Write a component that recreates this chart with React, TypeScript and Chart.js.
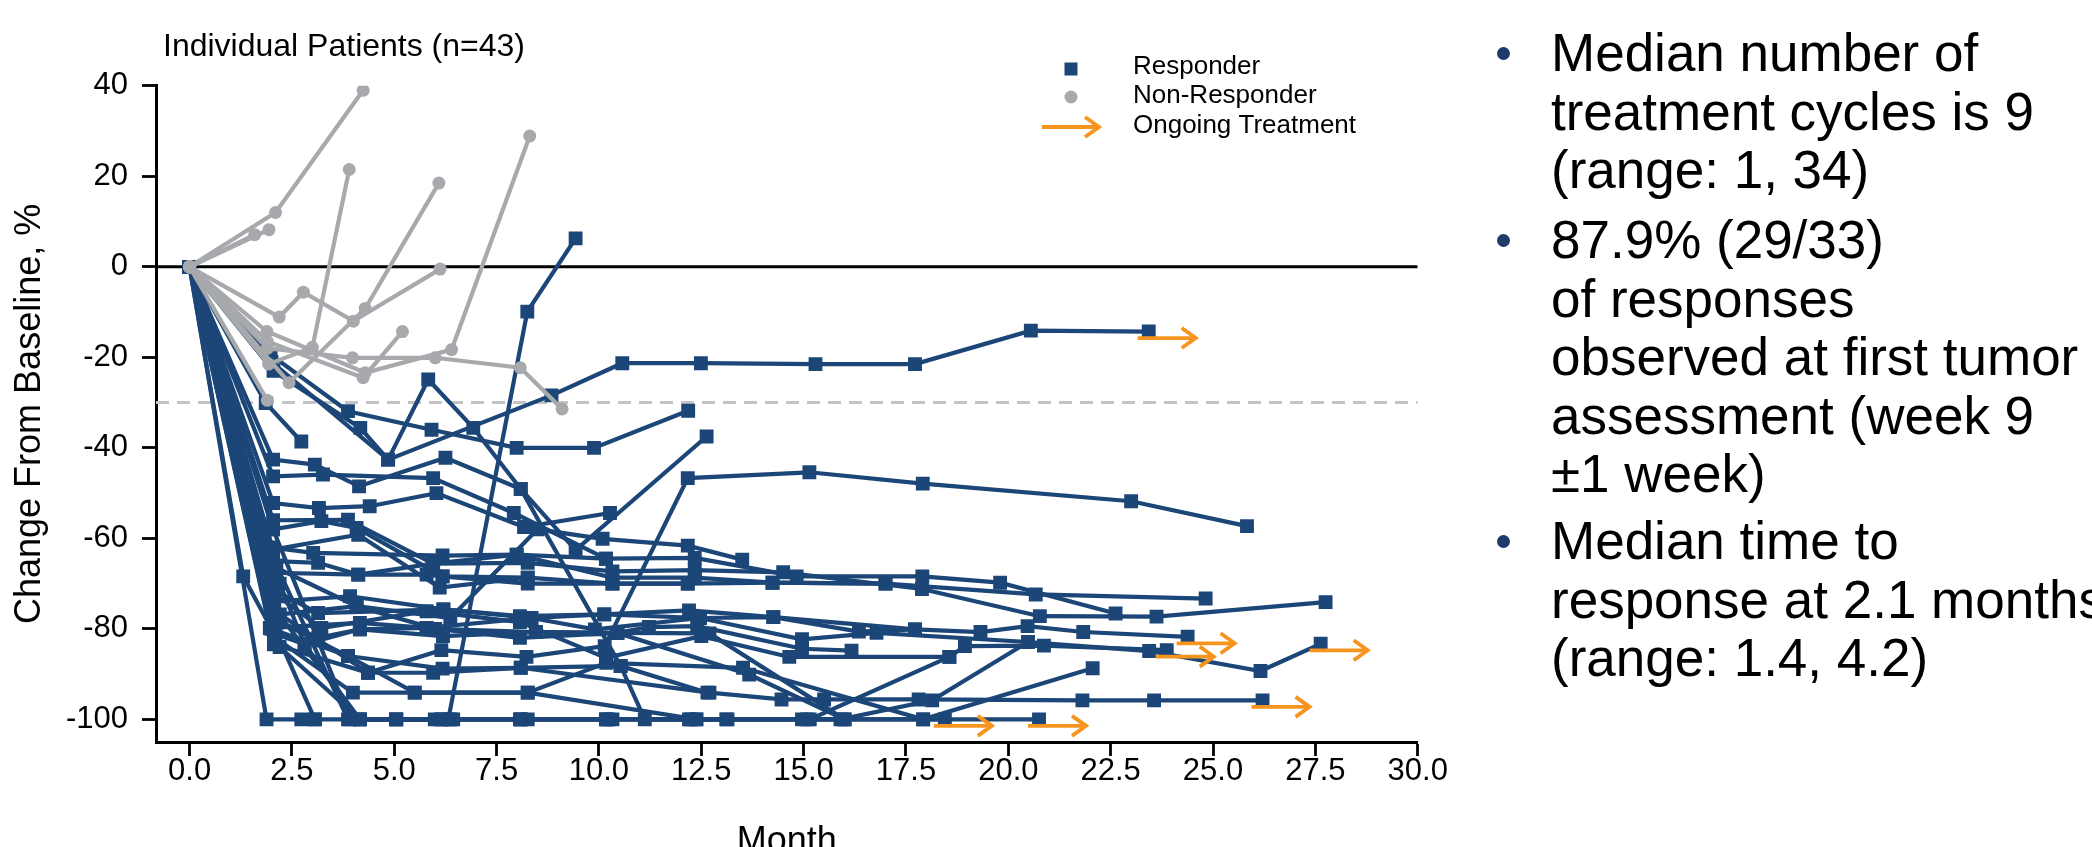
import React, { useEffect, useRef } from "react";
import { Chart, registerables } from "chart.js";

Chart.register(...registerables);

// ---- data -----------------------------------------------------------------
// Each patient: [month, % change in tumour size from baseline]
const responders: number[][][] = [
  [[0, 0], [2.0, -21], [4.85, -42.6], [8.84, -28.4], [10.57, -21.3], [12.49, -21.3], [15.29, -21.5], [17.72, -21.5], [20.55, -14.1], [23.43, -14.3]],
  [[0, 0], [1.98, -19.4], [3.87, -31.9], [5.91, -36], [7.99, -40], [9.88, -40], [12.18, -31.8]],
  [[0, 0], [2.05, -23], [4.17, -35.6], [4.85, -42.6], [5.83, -24.9], [6.93, -35.6], [8.09, -49.1], [9.43, -62.6], [12.63, -37.5]],
  [[0, 0], [1.86, -30.1], [2.73, -38.6]],
  [[0, 0], [2.04, -58], [3.92, -100], [5.05, -100], [6.32, -100], [8.25, -9.9], [9.43, 6.3]],
  [[0, 0], [2.06, -83.4], [4.36, -89.7], [6.15, -84.7], [8.23, -86.2], [10.14, -83.8], [12.17, -46.7], [15.14, -45.4], [17.91, -47.9], [23.0, -51.8], [25.83, -57.3]],
  [[0, 0], [2.04, -42.6], [3.06, -43.7], [4.14, -48.5], [6.25, -42.2], [8.09, -49.1], [10.53, -88.2], [11.12, -100], [12.2, -100], [13.14, -100]],
  [[0, 0], [2.04, -52.2], [3.16, -53.3], [4.4, -52.9], [6.03, -50], [8.17, -57.5], [10.27, -54.4]],
  [[0, 0], [2.2, -76.8], [4.08, -75], [6.37, -77.6], [8.5, -58], [10.09, -60.1], [12.17, -61.6], [13.5, -64.7]],
  [[0, 0], [2.04, -46.3], [3.26, -45.9], [5.95, -46.7], [7.92, -54.4], [10.17, -64.5], [12.34, -64.3], [14.83, -68.4], [17.9, -68.4], [19.8, -69.8], [22.62, -76.6]],
  [[0, 0], [2.07, -67.6], [4.12, -68], [5.95, -65.6], [8.26, -65.4], [10.33, -67.3], [12.34, -67], [14.5, -67.5], [17.89, -71.2], [20.77, -77.2], [23.62, -77.3], [27.75, -74.1]],
  [[0, 0], [1.96, -62], [3.02, -63.2], [6.18, -63.8], [7.99, -63.6], [10.33, -68.7], [12.34, -68.7], [14.24, -69.8], [17.0, -70], [20.67, -72.4], [24.82, -73.3]],
  [[0, 0], [2.04, -71.3], [3.14, -76.5], [6.2, -75.7], [8.07, -77.2], [10.13, -76.8], [12.2, -75.9], [14.26, -77.4], [17.72, -80.1], [19.32, -80.7], [20.47, -79.4], [21.83, -80.7], [24.38, -81.75]],
  [[0, 0], [1.96, -79.8], [4.16, -78.7], [5.79, -79.8], [8.35, -77.6], [9.9, -80.1], [12.47, -77.6], [14.96, -82.3], [16.78, -80.9], [20.48, -82.9], [23.44, -84.9], [26.16, -89.3], [27.63, -83.3]],
  [[0, 0], [2.06, -81], [2.81, -83.4], [4.16, -80.1], [6.19, -81.6], [8.46, -80.7], [10.45, -80.9], [11.22, -79.6], [12.4, -79.4], [14.96, -84.4], [16.17, -84.8]],
  [[0, 0], [2.04, -72], [3.22, -79.8], [5.79, -76.1], [8.07, -78.5], [10.17, -86.4], [12.5, -81.6], [14.65, -86.2], [18.56, -86.2], [18.94, -83.8], [20.87, -83.7], [23.87, -84.7]],
  [[0, 0], [1.31, -68.4], [2.0, -80], [3.87, -86], [6.18, -88.8], [8.09, -88.6], [10.53, -88.2], [12.65, -94.1]],
  [[0, 0], [2.1, -82], [3.99, -94.1], [5.5, -94.1], [8.26, -94.1], [10.18, -87.5], [13.52, -88.6], [17.92, -100], [22.06, -88.7]],
  [[0, 0], [2.07, -76], [4.36, -89.7], [5.95, -89.7], [8.09, -88.6], [12.7, -94.1], [14.46, -95.6], [15.5, -95.6], [17.81, -95.6], [21.81, -95.8], [23.56, -95.8], [26.21, -95.8]],
  [[0, 0], [1.88, -100], [2.73, -100], [3.06, -100]],
  [[0, 0], [2.1, -80.5], [3.06, -100], [5.05, -100], [5.99, -100], [8.09, -100], [10.17, -100], [12.38, -100], [15.08, -100], [18.45, -100]],
  [[0, 0], [2.2, -77], [4.16, -100], [6.44, -100], [8.26, -100], [10.33, -100], [13.11, -100], [14.96, -100], [17.92, -100], [20.75, -100]],
  [[0, 0], [2.12, -66], [3.87, -100], [6.15, -100], [8.07, -100], [10.22, -100]],
  [[0, 0], [2.04, -58], [3.22, -56.2], [4.08, -57.7], [6.18, -68.4], [8.26, -70], [10.33, -70], [12.17, -70]],
  [[0, 0], [2.04, -62.5], [4.12, -59.2], [6.11, -70.9], [8.26, -68.7], [10.33, -70], [12.17, -70], [14.24, -69.8], [17.0, -70]],
  [[0, 0], [2.04, -65], [3.14, -65.4], [4.12, -68], [5.79, -68], [6.18, -68.4], [8.26, -68.7]],
  [[0, 0], [2.0, -66], [4.08, -75], [6.0, -80], [8.46, -80.7], [10.45, -80.9], [12.7, -81], [16.0, -100]],
  [[0, 0], [2.2, -84], [4.16, -100], [6.38, -100], [8.09, -100], [10.17, -100], [12.24, -100], [15.15, -100], [18.56, -86.2]],
  [[0, 0], [2.1, -78], [3.87, -86], [5.5, -94.1], [8.26, -94.1], [12.38, -100], [15.9, -100], [18.14, -95.8], [20.48, -82.9]],
  [[0, 0], [2.04, -56], [3.87, -55.9], [5.95, -65.6], [7.99, -63.6], [10.17, -64.5]],
  [[0, 0], [2.06, -74], [3.92, -72.8], [6.2, -75.7], [8.35, -77.6], [10.13, -76.8], [12.47, -77.6], [14.26, -77.4], [16.35, -80.6], [17.72, -80.1]],
  [[0, 0], [2.04, -78], [3.14, -82], [4.16, -80.1], [5.79, -79.8], [8.07, -82], [10.45, -80.9], [13.67, -90.1], [16.0, -100]],
  [[0, 0], [2.2, -70], [2.81, -83.4], [4.16, -100], [5.04, -100], [6.15, -100]],
];

// responders still on treatment at data cut-off (index into responders)
const ongoingPatients = [0, 12, 13, 15, 18, 20, 21];

const nonResponders: number[][][] = [
  [[0, 0], [2.1, 12], [4.24, 39]],
  [[0, 0], [1.59, 7.1]],
  [[0, 0], [1.94, 8.2]],
  [[0, 0], [1.93, -21.5], [3.0, -17.8], [3.9, 21.5]],
  [[0, 0], [2.43, -25.6], [4.29, -9.2], [6.09, 18.5]],
  [[0, 0], [2.19, -11.1], [2.78, -5.6], [4.0, -12], [6.12, -0.5]],
  [[0, 0], [1.89, -14.3], [4.29, -23.4], [6.4, -18.3], [8.31, 28.9]],
  [[0, 0], [1.9, -16.5], [4.24, -24.5], [5.2, -14.3]],
  [[0, 0], [1.9, -18], [3.98, -20.1], [6.0, -20.1], [8.08, -22.3], [9.1, -31.4]],
  [[0, 0], [1.9, -29.5]],
];

const monthTicks = [0, 2.5, 5, 7.5, 10, 12.5, 15, 17.5, 20, 22.5, 25, 27.5, 30];
const changeTicks = [40, 20, 0, -20, -40, -60, -80, -100];
const monthRange = [-0.82, 30];
const changeRange = [-105, 40];
const responseThreshold = -30;

const legendLabels = ["Responder", "Non-Responder", "Ongoing Treatment"];
const chartTitle = "Individual Patients (n=43)";

const bulletGroups: string[][] = [
  ["Median number of", "treatment cycles is 9", "(range: 1, 34)"],
  ["87.9% (29/33)", "of responses", "observed at first tumor", "assessment (week 9", "\u00b11 week)"],
  ["Median time to", "response at 2.1 months", "(range: 1.4, 4.2)"],
];

// ---- styles ---------------------------------------------------------------
const NAVY = "#1b4677";
const GREY = "#a7a9ac";
const ORANGE = "#f7941d";
const FONT = '"Liberation Sans", Arial, Helvetica, sans-serif';

const CANVAS_W = 1480;
const CANVAS_H = 880;

function drawArrow(ctx: CanvasRenderingContext2D, x0: number, x1: number, y: number) {
  ctx.beginPath();
  ctx.moveTo(x0, y);
  ctx.lineTo(x1, y);
  ctx.stroke();
  ctx.beginPath();
  ctx.moveTo(x1 - 14, y - 10);
  ctx.lineTo(x1, y);
  ctx.lineTo(x1 - 14, y + 10);
  ctx.stroke();
}

const ongoingArrows = {
  id: "ongoingArrows",
  afterDatasetsDraw(chart: any) {
    const { ctx, scales } = chart;
    ctx.save();
    ctx.strokeStyle = ORANGE;
    ctx.lineWidth = 3.8;
    ctx.lineJoin = "miter";
    ongoingPatients.forEach((i) => {
      const pts = responders[i];
      const [m, v] = pts[pts.length - 1];
      const px = scales.x.getPixelForValue(m);
      const py = scales.y.getPixelForValue(v);
      drawArrow(ctx, px - 11, px + 47, py + 6.5);
    });
    ctx.restore();
  },
};

const titleAndLegend = {
  id: "titleAndLegend",
  afterDraw(chart: any) {
    const { ctx } = chart;
    ctx.save();
    ctx.fillStyle = "#000";
    ctx.textBaseline = "middle";
    ctx.textAlign = "left";
    ctx.font = `32px ${FONT}`;
    ctx.fillText(chartTitle, 163, 47);

    // legend
    ctx.fillStyle = NAVY;
    ctx.fillRect(1064.5, 62.5, 13, 13);
    ctx.fillStyle = GREY;
    ctx.beginPath();
    ctx.arc(1071, 97, 6.5, 0, Math.PI * 2);
    ctx.fill();
    ctx.strokeStyle = ORANGE;
    ctx.lineWidth = 3.8;
    drawArrow(ctx, 1042, 1099, 127);

    ctx.fillStyle = "#000";
    ctx.font = `26px ${FONT}`;
    ctx.fillText(legendLabels[0], 1133, 67);
    ctx.fillText(legendLabels[1], 1133, 96);
    ctx.fillText(legendLabels[2], 1133, 126);
    ctx.restore();
  },
};

function toXY(pts: number[][]) {
  return pts.map(([x, y]) => ({ x, y }));
}

export default function App() {
  const canvasRef = useRef<HTMLCanvasElement | null>(null);

  useEffect(() => {
    const canvas = canvasRef.current;
    if (!canvas) return;

    const greySets = nonResponders.map((pts) => ({
      data: toXY(pts),
      borderColor: GREY,
      backgroundColor: GREY,
      borderWidth: 4.2,
      pointStyle: "circle",
      pointRadius: 6.5,
      pointBorderWidth: 0,
      pointBackgroundColor: GREY,
      tension: 0,
    }));
    const navySets = responders.map((pts) => ({
      data: toXY(pts),
      borderColor: NAVY,
      backgroundColor: NAVY,
      borderWidth: 4.2,
      pointStyle: "rect",
      pointRadius: 9.8,
      pointBorderWidth: 0,
      pointBackgroundColor: NAVY,
      tension: 0,
    }));
    const baseline = {
      data: [{ x: monthRange[0], y: 0 }, { x: monthRange[1], y: 0 }],
      borderColor: "#000",
      borderWidth: 3,
      pointRadius: 0,
    };
    const threshold = {
      data: [{ x: monthRange[0], y: responseThreshold }, { x: monthRange[1], y: responseThreshold }],
      borderColor: "#c4c4c4",
      borderWidth: 3,
      borderDash: [13, 8],
      pointRadius: 0,
    };

    const tickFont = { family: FONT, size: 31, lineHeight: 1 };
    const chart = new Chart(canvas, {
      type: "line",
      data: { datasets: [...greySets, ...navySets, baseline, threshold] as any },
      options: {
        responsive: false,
        animation: false,
        events: [],
        devicePixelRatio: 1,
        layout: { padding: { top: 85.8, right: CANVAS_W - 1417.7, left: 0, bottom: 0 } },
        plugins: {
          legend: { display: false },
          tooltip: { enabled: false },
          title: { display: false },
        },
        scales: {
          x: {
            type: "linear",
            min: monthRange[0],
            max: monthRange[1],
            afterBuildTicks: (s: any) => {
              s.ticks = monthTicks.map((value) => ({ value }));
            },
            afterFit: (s: any) => {
              s.height = CANVAS_H - 742;
            },
            ticks: {
              autoSkip: false,
              maxRotation: 0,
              padding: 0,
              color: "#000",
              font: tickFont,
              callback: (v: any) => Number(v).toFixed(1),
            },
            grid: { drawOnChartArea: false, drawTicks: true, tickLength: 14, tickColor: "#000", tickWidth: 2.8 },
            border: { display: true, color: "#000", width: 3 },
            title: {
              display: true,
              text: "Month",
              color: "#000",
              font: { family: FONT, size: 36, lineHeight: 1.2 },
              padding: { top: 0, bottom: 16 },
            },
          },
          y: {
            type: "linear",
            min: changeRange[0],
            max: changeRange[1],
            afterBuildTicks: (s: any) => {
              s.ticks = changeTicks.map((value) => ({ value }));
            },
            afterFit: (s: any) => {
              s.width = 156;
            },
            ticks: {
              padding: 14,
              color: "#000",
              font: tickFont,
              callback: (v: any) => String(v),
            },
            grid: { drawOnChartArea: false, drawTicks: true, tickLength: 14, tickColor: "#000", tickWidth: 2.8 },
            border: { display: true, color: "#000", width: 3 },
            title: {
              display: true,
              text: "Change From Baseline, %",
              color: "#000",
              font: { family: FONT, size: 36, lineHeight: 1.2 },
              padding: { top: 8, bottom: 0 },
            },
          },
        },
      } as any,
      plugins: [ongoingArrows, titleAndLegend],
    });
    return () => chart.destroy();
  }, []);

  const groupTops = [24, 211, 512];
  const bulletY = [53, 240, 541];

  return (
    <div
      style={{
        position: "fixed",
        left: 0,
        top: 0,
        width: 2092,
        height: 847,
        overflow: "hidden",
        background: "#fff",
      }}
    >
      <canvas
        ref={canvasRef}
        width={CANVAS_W}
        height={CANVAS_H}
        style={{ position: "absolute", left: 0, top: 0, width: CANVAS_W, height: CANVAS_H }}
      />
      {bulletGroups.map((lines, gi) => (
        <React.Fragment key={gi}>
          <div
            style={{
              position: "absolute",
              left: 1503 - 6.5,
              top: bulletY[gi] - 6.5,
              width: 13,
              height: 13,
              borderRadius: "50%",
              background: "#1f3a68",
            }}
          />
          <div
            style={{
              position: "absolute",
              left: 1551,
              top: groupTops[gi],
              fontFamily: FONT,
              fontSize: 53,
              lineHeight: "58.5px",
              color: "#000",
              whiteSpace: "nowrap",
            }}
          >
            {lines.map((t, li) => (
              <div key={li}>{t}</div>
            ))}
          </div>
        </React.Fragment>
      ))}
    </div>
  );
}
